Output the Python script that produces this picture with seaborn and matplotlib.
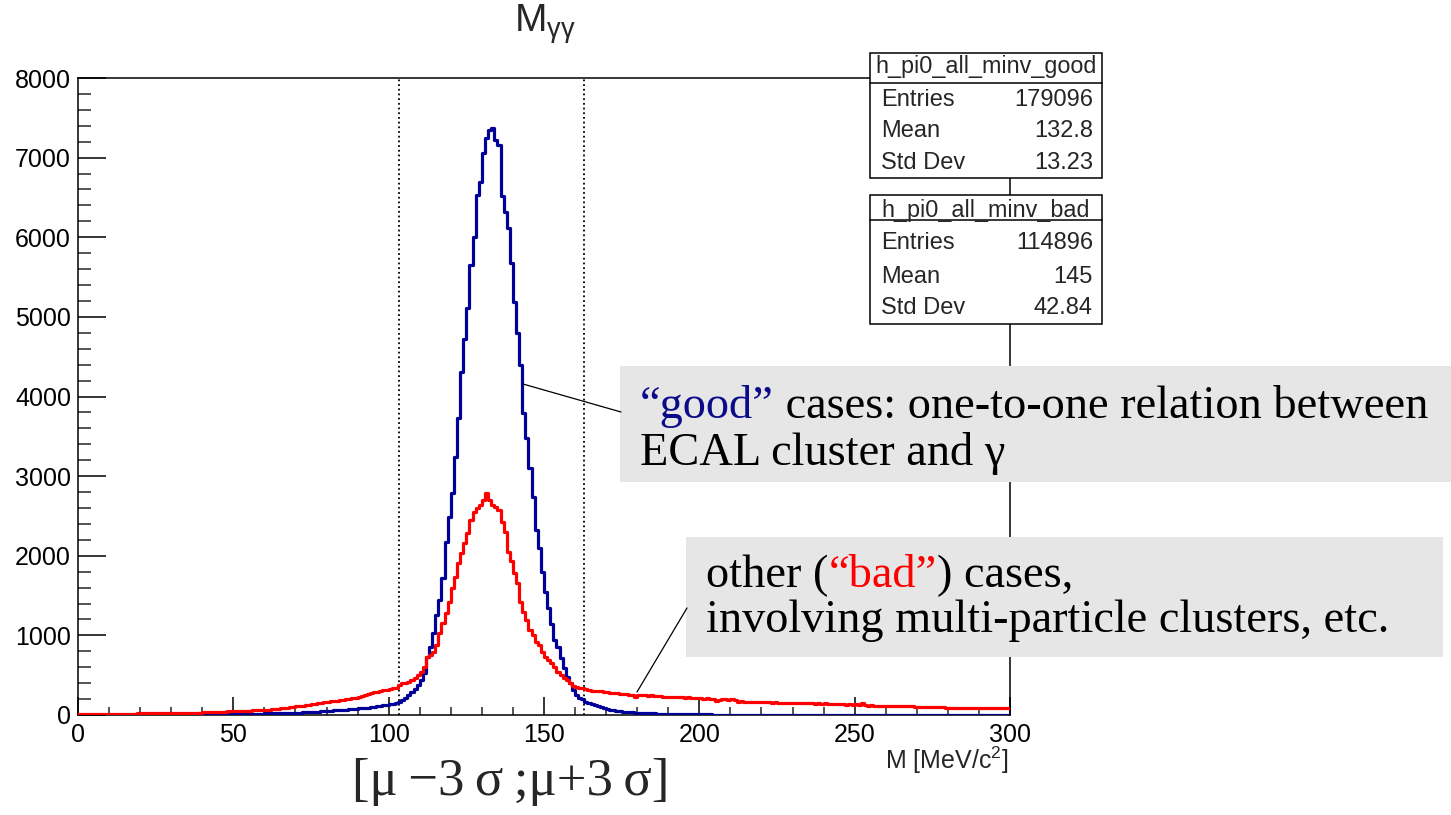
import numpy as np
import pandas as pd
import matplotlib
matplotlib.use("Agg")
import matplotlib.pyplot as plt
import seaborn as sns
from matplotlib.patches import Rectangle
from matplotlib.lines import Line2D
from matplotlib.text import Annotation
from matplotlib.ticker import MultipleLocator

# ---------------- data (1 MeV bins, 0..300) ----------------
bin_lo, bin_hi, bin_w = 0, 300, 1

good_counts = [
    0, 0, 1, 0, 1, 1, 0, 1, 1, 2,
    1, 2, 1, 2, 2, 3, 2, 3, 3, 4,
    3, 4, 4, 5, 4, 5, 6, 5, 6, 7,
    6, 7, 8, 7, 8, 9, 8, 10, 9, 10,
    11, 10, 12, 11, 11, 12, 12, 11, 12, 12,
    12, 13, 13, 14, 15, 15, 16, 17, 17, 18,
    19, 20, 21, 22, 23, 24, 25, 26, 27, 28,
    29, 31, 33, 35, 37, 39, 41, 43, 46, 48,
    51, 54, 57, 60, 63, 66, 69, 72, 75, 79,
    82, 86, 90, 94, 98, 103, 108, 114, 120, 126,
    133, 141, 152, 168, 188, 212, 245, 285, 330, 380,
    445, 530, 732, 858, 1026, 1256, 1445, 1717, 2177, 2491,
    2785, 3245, 3727, 4313, 4719, 5109, 5653, 6009, 6533, 6688,
    7064, 7245, 7349, 7370, 7223, 7160, 6512, 6323, 6114, 5674,
    5192, 4795, 4397, 3790, 3476, 3099, 2743, 2324, 2094, 1800,
    1549, 1350, 1140, 942, 858, 712, 587, 481, 398, 314,
    251, 215, 205, 160, 150, 140, 130, 115, 104, 90,
    80, 68, 60, 54, 48, 43, 40, 37, 34, 31,
    29, 27, 25, 23, 21, 20, 18, 17, 16, 15,
    14, 13, 12, 12, 11, 10, 10, 9, 9, 8,
    8, 7, 7, 7, 6, 6, 6, 5, 5, 5,
    5, 4, 4, 4, 4, 4, 3, 3, 3, 3,
    3, 3, 3, 3, 2, 2, 2, 2, 2, 2,
    2, 2, 2, 2, 2, 1, 1, 2, 1, 1,
    1, 1, 1, 1, 1, 1, 1, 1, 1, 1,
    1, 1, 1, 0, 1, 1, 0, 1, 1, 0,
    1, 0, 1, 0, 1, 0, 1, 0, 0, 1,
    0, 1, 0, 0, 1, 0, 0, 1, 0, 0,
    1, 0, 0, 0, 1, 0, 0, 0, 1, 0,
    0, 0, 1, 0, 0, 0, 0, 1, 0, 0,
]

bad_counts = [
    8, 10, 11, 12, 12, 13, 13, 14, 14, 15,
    15, 16, 15, 17, 16, 17, 18, 17, 18, 19,
    19, 20, 19, 21, 20, 22, 21, 23, 22, 24,
    24, 25, 26, 25, 27, 28, 27, 29, 30, 31,
    32, 33, 34, 36, 37, 38, 40, 42, 44, 46,
    47, 49, 51, 53, 55, 56, 58, 60, 62, 64,
    66, 69, 72, 75, 79, 83, 87, 91, 96, 101,
    108, 113, 118, 124, 130, 134, 140, 146, 153, 160,
    166, 170, 175, 180, 185, 190, 196, 202, 210, 218,
    228, 238, 250, 262, 272, 283, 294, 305, 312, 318,
    326, 334, 345, 380, 398, 405, 419, 440, 461, 503,
    544, 607, 732, 754, 795, 879, 1026, 1152, 1277, 1424,
    1591, 1738, 1906, 2031, 2157, 2282, 2450, 2554, 2596, 2638,
    2701, 2785, 2700, 2640, 2617, 2575, 2420, 2300, 2052, 1930,
    1780, 1654, 1424, 1298, 1193, 1068, 1005, 921, 880, 790,
    732, 691, 650, 607, 544, 503, 461, 440, 398, 370,
    356, 345, 335, 322, 314, 305, 300, 296, 306, 290,
    284, 281, 276, 272, 270, 262, 258, 252, 251, 222,
    250, 252, 246, 244, 248, 240, 236, 238, 232, 230,
    228, 232, 226, 224, 220, 218, 222, 214, 212, 209,
    210, 206, 208, 204, 200, 180, 190, 196, 198, 194,
    197, 192, 168, 170, 166, 164, 168, 162, 160, 163,
    158, 160, 157, 155, 158, 154, 156, 152, 155, 150,
    151, 148, 146, 150, 147, 145, 148, 143, 146, 144,
    146, 142, 140, 134, 136, 132, 135, 131, 134, 130,
    134, 128, 150, 125, 117, 120, 118, 116, 118, 114,
    112, 115, 110, 113, 112, 108, 111, 107, 109, 105,
    104, 106, 102, 104, 103, 100, 98, 101, 96, 88,
    84, 86, 85, 88, 83, 86, 84, 85, 87, 84,
    86, 84, 88, 90, 87, 92, 89, 86, 84, 88,
]

window_edges = [103.3, 162.9]   # mu - 3 sigma, mu + 3 sigma

good_name = "h_pi0_all_minv_good"
bad_name = "h_pi0_all_minv_bad"
stat_labels = ["Entries", "Mean", "Std Dev"]
good_stats = ["179096", "132.8", "13.23"]
bad_stats = ["114896", "145", "42.84"]

title_text = r"M$_{\mathregular{γγ}}$"
xlabel_text = r"M [MeV/c$^{\mathregular{2}}$]"

# ---------------- figure ----------------
assert len(good_counts) == 300 and len(bad_counts) == 300
edges = np.arange(bin_lo, bin_hi + bin_w, bin_w)
centers = edges[:-1] + bin_w / 2
df = pd.DataFrame({"M": centers, "good": good_counts, "bad": bad_counts})

sns.set_theme(style="white")
plt.rcParams["font.family"] = ["Liberation Sans", "DejaVu Sans"]
plt.rcParams["mathtext.fontset"] = "custom"
plt.rcParams["mathtext.rm"] = "Liberation Sans"
plt.rcParams["mathtext.it"] = "Liberation Sans:italic"

W, H = 1451, 815
fig = plt.figure(figsize=(W / 100, H / 100), dpi=100)
fig.patch.set_facecolor("white")


def fx(x):
    return x / W


def fy(y):
    return 1 - y / H


ax = fig.add_axes([fx(78), fy(715), 932 / W, 637 / H])
ax.set_facecolor("white")

for xv in window_edges:
    ax.axvline(xv, color="black", linestyle=(0, (1, 1.6)), linewidth=1.3, zorder=1)

sns.histplot(data=df, x="M", weights="good", binwidth=bin_w, binrange=(bin_lo, bin_hi),
             element="step", fill=False, color="#000099", linewidth=2.3, ax=ax, zorder=3)
sns.histplot(data=df, x="M", weights="bad", binwidth=bin_w, binrange=(bin_lo, bin_hi),
             element="step", fill=False, color="#ff0000", linewidth=2.3, ax=ax, zorder=4)

ax.set_xlim(0, 300)
ax.set_ylim(0, 8000)
ax.set_xlabel("")
ax.set_ylabel("")
for s in ax.spines.values():
    s.set_color("black")
    s.set_linewidth(1.1)
    s.set_visible(True)

ax.xaxis.set_major_locator(MultipleLocator(50))
ax.xaxis.set_minor_locator(MultipleLocator(10))
ax.yaxis.set_major_locator(MultipleLocator(1000))
ax.yaxis.set_minor_locator(MultipleLocator(200))
ax.tick_params(axis="x", which="major", direction="in", length=13, width=1.1,
               labelsize=18, pad=6, bottom=True, top=False, colors="black")
ax.tick_params(axis="x", which="minor", direction="in", length=6, width=1.1,
               bottom=True, top=False)
ax.tick_params(axis="y", which="major", direction="in", length=20, width=1.1,
               labelsize=18, pad=5, left=True, right=False, colors="black")
ax.tick_params(axis="y", which="minor", direction="in", length=9.5, width=1.1,
               left=True, right=False)

# title and axis title
fig.text(fx(545), fy(24), title_text, ha="center", va="center", fontsize=28)
fig.text(fx(1008), fy(760), xlabel_text, ha="right", va="center", fontsize=18)


# stats boxes
def stats_box(y_top, y_sep, y_bot, name, values, row_y, head_y):
    x0, x1 = 870, 1102
    fig.add_artist(Rectangle((fx(x0), fy(y_bot)), (x1 - x0) / W, (y_bot - y_top) / H,
                             transform=fig.transFigure, facecolor="white",
                             edgecolor="black", linewidth=1.1, zorder=10))
    fig.add_artist(Line2D([fx(x0), fx(x1)], [fy(y_sep), fy(y_sep)],
                          transform=fig.transFigure, color="black", linewidth=1.1, zorder=11))
    fig.text(fx((x0 + x1) / 2), fy(head_y), name, ha="center", va="center",
             fontsize=16.8, zorder=12)
    for lab, val, yy in zip(stat_labels, values, row_y):
        fig.text(fx(881), fy(yy), lab, ha="left", va="center", fontsize=17, zorder=12)
        fig.text(fx(1093), fy(yy), val, ha="right", va="center", fontsize=17, zorder=12)


stats_box(53, 83, 178, good_name, good_stats, [100, 131, 163], 67)
stats_box(195, 220, 324, bad_name, bad_stats, [243, 277, 308], 210)

# grey comment boxes
grey = "#e6e6e6"
fig.add_artist(Rectangle((fx(620), fy(482)), (W - 620) / W, (482 - 366) / H,
                         transform=fig.transFigure, facecolor=grey, edgecolor="none", zorder=8))
fig.add_artist(Rectangle((fx(686), fy(657)), (1443 - 686) / W, (657 - 537) / H,
                         transform=fig.transFigure, facecolor=grey, edgecolor="none", zorder=8))

# pointer lines
fig.add_artist(Line2D([fx(523), fx(621)], [fy(384), fy(412)], transform=fig.transFigure,
                      color="black", linewidth=0.9, zorder=9))
fig.add_artist(Line2D([fx(637), fx(687)], [fy(692), fy(608)], transform=fig.transFigure,
                      color="black", linewidth=0.9, zorder=9))

serif = ["Liberation Serif", "DejaVu Serif"]
big = 33.4


def chain(x, y, parts, size):
    t = fig.text(fx(x), fy(y), parts[0][0], color=parts[0][1], fontsize=size,
                 family=serif, ha="left", va="baseline", zorder=12)
    for s, c in parts[1:]:
        a = Annotation(s, xy=(1, 0), xycoords=t, ha="left", va="bottom",
                       color=c, fontsize=size, family=serif, annotation_clip=False)
        a.set_zorder(12)
        fig.add_artist(a)
        t = a
    return t


navy = "#0b0b8a"
chain(640, 418, [("\u201cgood\u201d", navy), (" cases: one-to-one relation between", "black")], big)
chain(640, 465, [("ECAL cluster and \u03b3", "black")], big)
chain(706, 587, [("other (", "black"), ("\u201cbad\u201d", "#ff0000"), (") cases,", "black")], big)
chain(706, 632, [("involving multi-particle clusters, etc.", "black")], big)

fig.text(fx(511), fy(782), "[\u03bc\u2009\u22123\u2009\u03c3\u2009;\u03bc+3\u2009\u03c3]",
         ha="center", va="center", fontsize=38, family=serif)

fig.savefig("out.png", dpi=100)
